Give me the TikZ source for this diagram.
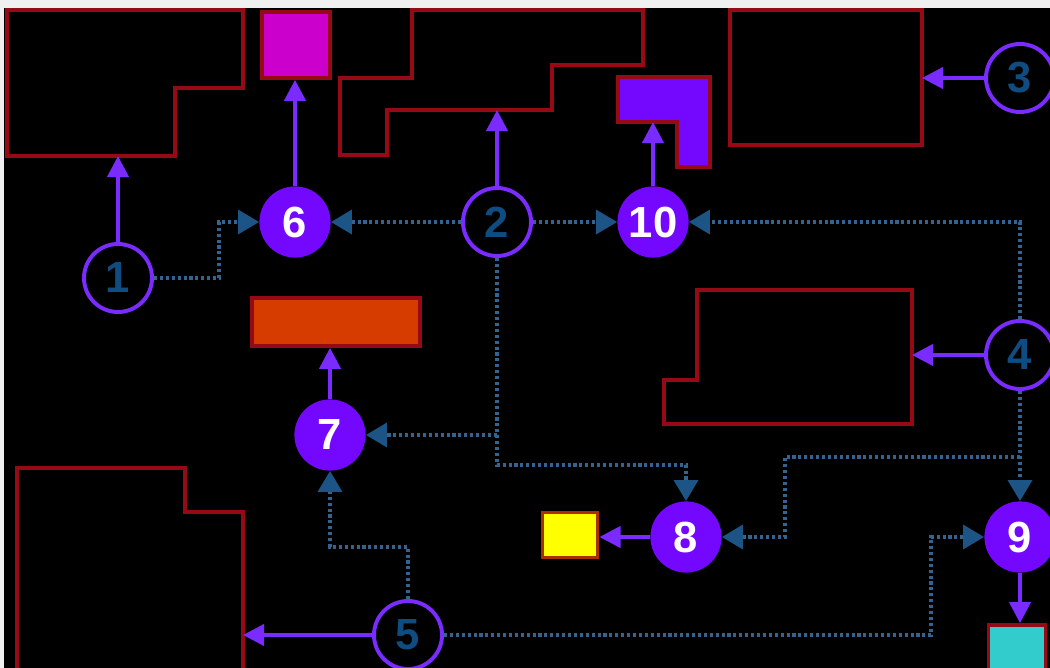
\documentclass[tikz,border=0pt]{standalone}
\usepackage{fontspec}
\setsansfont{Liberation Sans}
\usetikzlibrary{arrows.meta}
\definecolor{wallred}{HTML}{960A16}
\definecolor{ringviolet}{HTML}{7A2BFF}
\definecolor{discviolet}{HTML}{7408FF}
\definecolor{digitblue}{HTML}{0F4C81}
\definecolor{flowblue}{HTML}{35638F}
\definecolor{tipblue}{HTML}{1C5486}
\definecolor{padmag}{HTML}{CC00CC}
\definecolor{padorange}{HTML}{D63C00}
\definecolor{padyellow}{HTML}{FFFF00}
\definecolor{padcyan}{HTML}{33CCCC}

\begin{document}
\begin{tikzpicture}[x=0.025cm, y=-0.025cm,
  room/.style={draw=wallred, line width=3pt},
  pad/.style={draw=wallred, line width=2.6pt, inner sep=0pt},
  ocirc/.style={circle, draw=ringviolet, line width=2.8pt, minimum size=1.7cm, inner sep=0pt, text=digitblue, font=\sffamily\bfseries\fontsize{31}{31}\selectfont},
  fcirc/.style={circle, fill=discviolet, minimum size=1.78cm, inner sep=0pt, text=white, font=\sffamily\bfseries\fontsize{31}{31}\selectfont},
  arrow/.style={-{Triangle[length=15pt, width=15pt]}, draw=ringviolet, line width=2.8pt},
  flow/.style={-{Triangle[length=15pt, width=17pt, color=tipblue]}, draw=flowblue, line width=2.8pt, dash pattern=on 2.2pt off 2pt}
]
\useasboundingbox (0,0) rectangle (1050,668);
\clip (0,0) rectangle (1050,668);
\fill[black] (0,0) rectangle (1050,668);
\fill[gray!12] (0,0) rectangle (1050,8);
\fill[gray!12] (0,0) rectangle (4,668);

\draw[room] (7,10) -- (243,10) -- (243,88) -- (175,88) -- (175,156) -- (7,156) -- cycle;
\draw[room] (412,10) -- (643,10) -- (643,65) -- (552,65) -- (552,110) -- (387,110) -- (387,155) -- (340,155) -- (340,78) -- (412,78) -- cycle;
\draw[room] (730,10) rectangle (922,145);
\draw[room] (697,290) -- (912,290) -- (912,424) -- (664,424) -- (664,380) -- (697,380) -- cycle;
\draw[room] (17,680) -- (17,468) -- (185,468) -- (185,512) -- (243,512) -- (243,680);
\draw[room, fill=discviolet] (618,77) -- (710,77) -- (710,167) -- (677,167) -- (677,122) -- (618,122) -- cycle;

\node[pad, fill=padmag, minimum width=1.7cm, minimum height=1.65cm] (mag) at (296,45) {};
\node[pad, fill=padorange, minimum width=4.2cm, minimum height=1.2cm] (org) at (336,322) {};
\node[pad, fill=padyellow, draw=padorange!80!black, minimum width=1.38cm, minimum height=1.12cm] (ylw) at (570,535) {};
\node[pad, fill=padcyan, minimum width=1.42cm, minimum height=1.4cm] (cyn) at (1017,653) {};

\coordinate (roomA) at (118,156);
\coordinate (roomB) at (497,110);
\coordinate (roomC) at (922,78);
\coordinate (roomD) at (243,635);
\coordinate (roomE) at (912,355);
\coordinate (ell) at (653,122);

\node[ocirc] (c1) at (118,278) {1};
\node[ocirc] (c2) at (497,222) {2};
\node[ocirc] (c3) at (1020,78) {3};
\node[ocirc] (c4) at (1020,355) {4};
\node[ocirc] (c5) at (408,635) {5};
\node[fcirc] (c6) at (295,222) {6};
\node[fcirc] (c7) at (330,435) {7};
\node[fcirc] (c8) at (686,537) {8};
\node[fcirc] (c9) at (1020,537) {9};
\node[fcirc] (c10) at (653,222) {10};

\coordinate (j4) at (1020,457);

\draw[arrow] (c1) -- (roomA);
\draw[arrow] (c6) -- (c6 |- mag.south);
\draw[arrow] (c2) -- (roomB);
\draw[arrow] (c10) -- (ell);
\draw[arrow] (c3) -- (roomC);
\draw[arrow] (c7) -- (c7 |- org.south);
\draw[arrow] (c4) -- (roomE);
\draw[arrow] (c5) -- (roomD);
\draw[arrow] (c8) -- (c8 -| ylw.east);
\draw[arrow] (c9) -- (c9 |- cyn.north);

\draw[flow] (c1.east) -- ++(65,0) |- (c6.west);
\draw[flow] (c2) -- (c6);
\draw[flow] (c2) -- (c10);
\draw[flow] (c4.north) |- (c10.east);
\draw[flow] (c4) -- (c9);
\draw[flow] (j4) -- ++(-235,0) |- (c8.east);
\draw[flow] (c2.south) |- (c7.east);
\draw[flow] (c2.south) -- ++(0,207) -| (c8.north);
\draw[flow] (c5.north) -- ++(0,-52) -| (c7.south);
\draw[flow] (c5.east) -- ++(487,0) |- (c9.west);
\end{tikzpicture}
\end{document}
